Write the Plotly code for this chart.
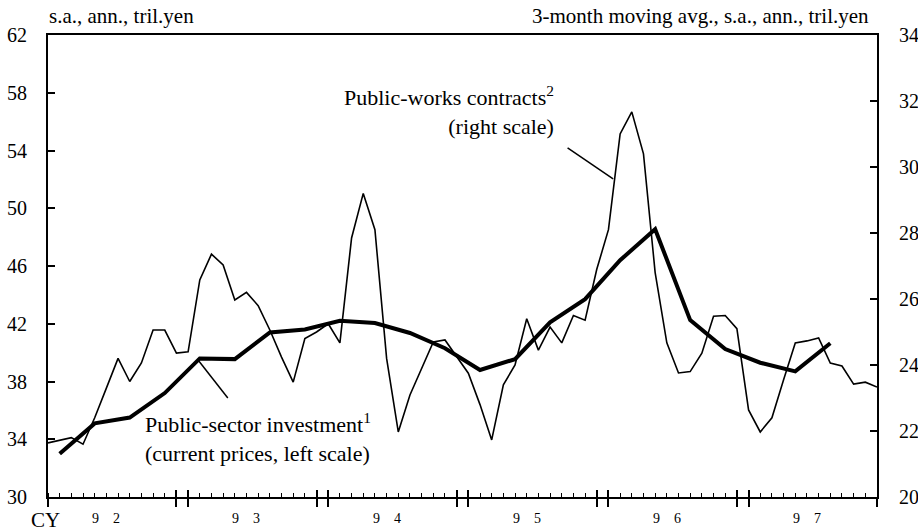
import plotly.graph_objects as go

# ---- data ----
# monthly index: 0 = Jan 1992 ... 71 = Dec 1997
contract_months = list(range(72))
public_works_contracts = [
    21.64, 21.73, 21.80, 21.60, 22.40, 23.30, 24.20, 23.50, 24.06, 25.06, 25.06, 24.36,
    24.40, 26.58, 27.36, 27.03, 25.97, 26.20, 25.80, 25.06, 24.24, 23.48, 24.80, 25.00,
    25.25, 24.67, 27.85, 29.20, 28.10, 24.20, 21.97, 23.09, 23.90, 24.70, 24.76, 24.24,
    23.75, 22.80, 21.73, 23.40, 24.00, 25.40, 24.45, 25.15, 24.67, 25.50, 25.36, 26.90,
    28.10, 31.00, 31.67, 30.40, 26.80, 24.67, 23.76, 23.80, 24.36, 25.48, 25.50, 25.10,
    22.64, 21.97, 22.40, 23.55, 24.67, 24.73, 24.82, 24.06, 23.97, 23.42, 23.48, 23.33,
]
# quarterly, plotted at middle month of each quarter
investment_months = list(range(1, 68, 3))
public_sector_investment = [
    33.00, 35.10, 35.50, 37.20, 39.60, 39.55, 41.40, 41.60, 42.20, 42.05, 41.36, 40.30,
    38.80, 39.55, 42.10, 43.70, 46.40, 48.55, 42.25, 40.25, 39.30, 38.70, 40.65,
]
year_label_months = [5, 17, 29, 41, 53, 65]
year_labels = ["9\u00a0\u00a0\u00a0\u00a02", "9\u00a0\u00a0\u00a0\u00a03", "9\u00a0\u00a0\u00a0\u00a04",
               "9\u00a0\u00a0\u00a0\u00a05", "9\u00a0\u00a0\u00a0\u00a06", "9\u00a0\u00a0\u00a0\u00a07"]
year_edge_ticks = [v for y in range(6) for v in (12 * y, 12 * y + 11)]
left_ticks = list(range(30, 63, 4))
right_ticks = list(range(20, 35, 2))

FONT = "Liberation Serif, Times New Roman, serif"
BLACK = "#000000"

fig = go.Figure()

# thin line: public-works contracts (right scale) -> yaxis 'y'
fig.add_trace(go.Scatter(
    x=contract_months, y=public_works_contracts, mode="lines",
    line=dict(color=BLACK, width=1.6), xaxis="x", yaxis="y",
    showlegend=False, hoverinfo="skip"))

# thick line: public-sector investment (left scale) -> yaxis 'y2'
fig.add_trace(go.Scatter(
    x=investment_months, y=public_sector_investment, mode="lines",
    line=dict(color=BLACK, width=4), xaxis="x", yaxis="y2",
    showlegend=False, hoverinfo="skip"))

# invisible helper trace so the overlay x-axis (upward year ticks) is drawn
fig.add_trace(go.Scatter(
    x=[contract_months[0]], y=[public_works_contracts[0]], mode="lines",
    opacity=0, xaxis="x2", yaxis="y", showlegend=False, hoverinfo="skip"))

fig.update_layout(
    template="none",
    width=918, height=532,
    margin=dict(l=48, r=41, t=35, b=35, autoexpand=False),
    paper_bgcolor="white", plot_bgcolor="white",
    font=dict(family=FONT, size=20, color=BLACK),
    xaxis=dict(
        range=[0, 71], showgrid=False, zeroline=False, automargin=False,
        showline=True, linewidth=2, linecolor=BLACK, mirror=True,
        tickmode="array", tickvals=year_edge_ticks, ticks="outside",
        ticklen=8, tickwidth=1.5, tickcolor=BLACK, showticklabels=False,
        minor=dict(tickmode="linear", tick0=0, dtick=1, ticks="inside",
                   ticklen=4, tickwidth=1, tickcolor=BLACK, showgrid=False),
    ),
    xaxis2=dict(
        range=[0, 71], overlaying="x", anchor="y", side="bottom", automargin=False,
        showgrid=False, zeroline=False, showline=False,
        tickmode="array", tickvals=year_edge_ticks, ticks="inside",
        ticklen=7, tickwidth=1.5, tickcolor=BLACK, showticklabels=False,
    ),
    yaxis=dict(
        range=[20, 34], side="right", tickmode="array", tickvals=right_ticks,
        ticks="inside", ticklen=7, tickwidth=1.5, tickcolor=BLACK,
        showline=True, linewidth=2, linecolor=BLACK, automargin=False,
        showgrid=False, zeroline=False, ticklabelstandoff=16,
        tickfont=dict(family=FONT, size=20, color=BLACK),
    ),
    yaxis2=dict(
        range=[30, 62], side="left", overlaying="y", anchor="x",
        tickmode="array", tickvals=left_ticks, automargin=False,
        ticks="inside", ticklen=7, tickwidth=1.5, tickcolor=BLACK,
        showline=True, linewidth=2, linecolor=BLACK,
        showgrid=False, zeroline=False, ticklabelstandoff=15,
        tickfont=dict(family=FONT, size=20, color=BLACK),
    ),
)

annotations = []
# header units
annotations.append(dict(text="s.a., ann., tril.yen", xref="paper", yref="paper",
                        x=0, y=1, xanchor="left", yanchor="middle", xshift=-1, yshift=19,
                        showarrow=False, font=dict(family=FONT, size=21, color=BLACK)))
annotations.append(dict(text="3-month moving avg., s.a., ann., tril.yen", xref="paper", yref="paper",
                        x=1, y=1, xanchor="right", yanchor="middle", xshift=-6, yshift=19,
                        showarrow=False, font=dict(family=FONT, size=21, color=BLACK)))
# CY and year labels
annotations.append(dict(text="CY", xref="paper", yref="paper", x=0, y=0,
                        xanchor="center", yanchor="middle", xshift=-3, yshift=-23,
                        showarrow=False, font=dict(family=FONT, size=21, color=BLACK)))
for m, lab in zip(year_label_months, year_labels):
    annotations.append(dict(text=lab, x=m, xref="x", yref="paper", y=0,
                            xanchor="center", yanchor="middle", yshift=-21,
                            showarrow=False, font=dict(family=FONT, size=14, color=BLACK)))
# series labels
annotations.append(dict(text="Public-works contracts<sup>2</sup><br>(right scale)",
                        xref="paper", yref="paper", x=(556 - 48) / 829, y=(497 - 111) / 462,
                        xanchor="right", yanchor="middle", align="right", showarrow=False,
                        font=dict(family=FONT, size=22, color=BLACK)))
annotations.append(dict(text="Public-sector investment<sup>1</sup><br>(current prices, left scale)",
                        xref="paper", yref="paper", x=(143 - 48) / 829, y=(497 - 437) / 462,
                        xanchor="left", yanchor="middle", align="left", showarrow=False,
                        font=dict(family=FONT, size=22, color=BLACK)))
fig.update_layout(annotations=annotations)

# leader lines from labels to series
fig.add_shape(type="line", xref="x", yref="y", x0=44.5, y0=30.58, x1=48.4, y1=29.64,
              line=dict(color=BLACK, width=1.5))
fig.add_shape(type="line", xref="x", yref="y2", x0=12.85, y0=39.49, x1=15.4, y1=36.86,
              line=dict(color=BLACK, width=1.5))

fig.write_html("out.html",
               config={"displayModeBar": False},
               post_script="document.body.style.margin='0px';document.body.style.overflow='hidden';")
